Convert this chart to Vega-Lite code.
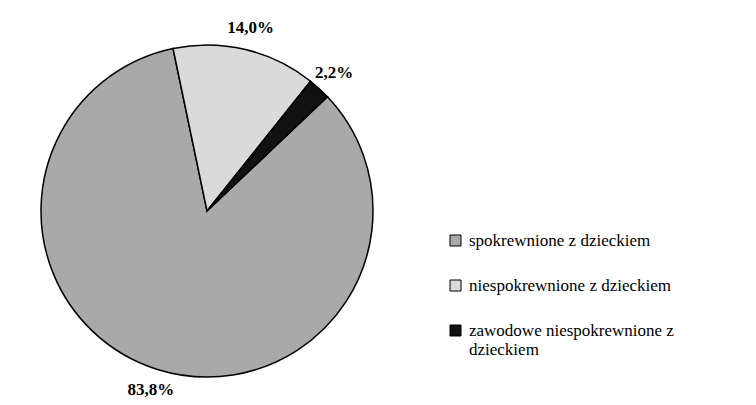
{
  "$schema": "https://vega.github.io/schema/vega-lite/v6.json",
  "width": 414,
  "height": 390,
  "padding": {"left": 0, "top": 16, "right": 0, "bottom": 0},
  "background": "white",
  "data": {
    "values": [
      {"kategoria": "spokrewnione z dzieckiem", "udzial": 83.8, "etykieta": "83,8%"},
      {"kategoria": "niespokrewnione z dzieckiem", "udzial": 14.0, "etykieta": "14,0%"},
      {"kategoria": "zawodowe niespokrewnione z dzieckiem", "udzial": 2.2, "etykieta": "2,2%"}
    ]
  },
  "encoding": {
    "theta": {"field": "udzial", "type": "quantitative", "stack": true, "scale": {"range": [0.812, 7.095]}},
    "order": {"field": "udzial", "type": "quantitative", "sort": "descending"}
  },
  "layer": [
    {
      "mark": {"type": "arc", "outerRadius": 166, "stroke": "black", "strokeWidth": 1.5},
      "encoding": {
        "color": {
          "field": "kategoria",
          "type": "nominal",
          "scale": {
            "domain": ["spokrewnione z dzieckiem", "niespokrewnione z dzieckiem", "zawodowe niespokrewnione z dzieckiem"],
            "range": ["#a9a9a9", "#dadada", "#111111"]
          },
          "legend": {
            "title": null,
            "orient": "none",
            "legendX": 447,
            "legendY": 216,
            "symbolType": "square",
            "symbolSize": 121,
            "symbolStrokeColor": "black",
            "symbolStrokeWidth": 1,
            "labelFont": "Liberation Serif",
            "labelFontSize": 17,
            "labelColor": "black",
            "labelLimit": 400,
            "labelOffset": 5,
            "rowPadding": 27,
            "labelExpr": "datum.label == 'zawodowe niespokrewnione z dzieckiem' ? ['zawodowe niespokrewnione z', 'dzieckiem'] : datum.label"
          }
        }
      }
    },
    {
      "mark": {"type": "text", "radius": 188, "font": "Liberation Serif", "fontWeight": "bold", "fontSize": 17, "color": "black"},
      "encoding": {
        "text": {"field": "etykieta", "type": "nominal"}
      }
    }
  ]
}
